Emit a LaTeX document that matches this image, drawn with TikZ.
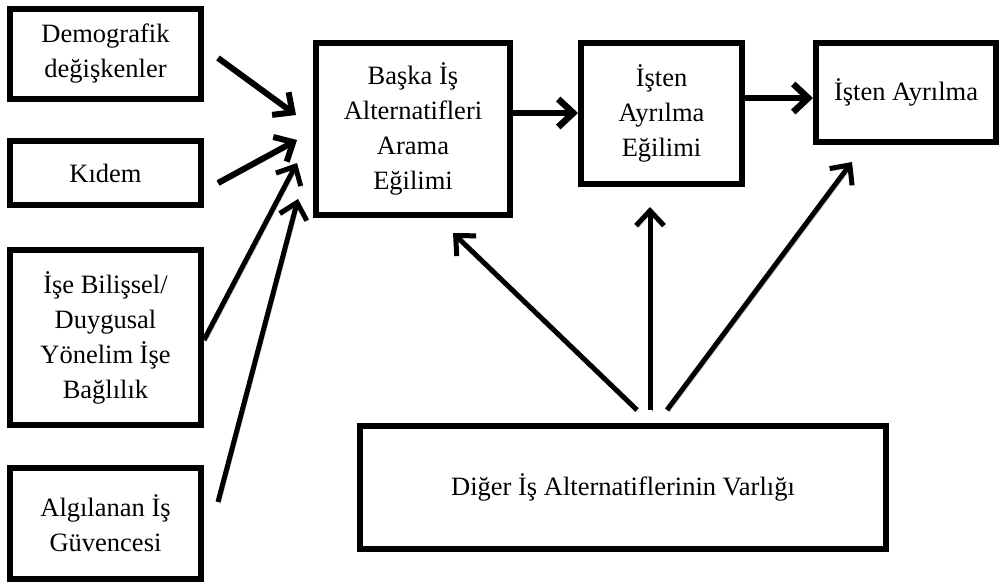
\documentclass[tikz,border=0pt]{standalone}
\usepackage{fontspec}
\setmainfont{Liberation Serif}
\usetikzlibrary{arrows.meta}
\begin{document}
\begin{tikzpicture}[x=1pt,y=-1pt,
  box/.style={draw, line width=6pt, fill=white, inner sep=0pt, align=center,
    font=\fontsize{26.5}{35}\selectfont},
  link/.style={line width=#1, -{Straight Barb[length=15pt,width=28pt]},
    preaction={draw=black!30, transform canvas={shift={(2.2pt,-2.2pt)}}}},
  link/.default=6pt]
\useasboundingbox (0,0) rectangle (1001,585);

% boxes on the left
\node[box, minimum width=191pt, minimum height=90pt]  (demo)  at (105.5,54)    {Demografik\\değişkenler};
\node[box, minimum width=191pt, minimum height=64pt]  (kidem) at (105.5,173)   {Kıdem};
\node[box, minimum width=191pt, minimum height=175pt] (bilis) at (105.5,337.5) {İşe Bilişsel/\\Duygusal\\Yönelim İşe\\Bağlılık};
\node[box, minimum width=191pt, minimum height=111pt] (algi)  at (105.5,523.5) {Algılanan İş\\Güvencesi};

% main chain
\node[box, minimum width=194pt, minimum height=172pt] (baska)  at (413,129)    {Başka İş\\Alternatifleri\\Arama\\Eğilimi};
\node[box, minimum width=161pt, minimum height=141pt] (egilim) at (661.5,113.5) {İşten\\Ayrılma\\Eğilimi};
\node[box, minimum width=180pt, minimum height=99pt]  (ayril)  at (906,92.5)   {İşten Ayrılma};
\node[box, minimum width=526pt, minimum height=123pt] (diger)  at (623,487.5)  {Diğer İş Alternatiflerinin Varlığı};

% connector ends
\coordinate (demo-o)  at (218,58);   \coordinate (demo-i)  at (296,115);
\coordinate (kidem-o) at (218,183);  \coordinate (kidem-i) at (297,140);
\coordinate (bilis-o) at (204,340);  \coordinate (bilis-i) at (297,163);
\coordinate (algi-o)  at (218,502);  \coordinate (algi-i)  at (298,199);
\coordinate (diger-l) at (637,410);  \coordinate (baska-s) at (453,233);
\coordinate (diger-m) at (650,410);  \coordinate (egilim-s) at (650,207);
\coordinate (diger-r) at (667,410);  \coordinate (ayril-s) at (852,162);

\draw[link] (demo-o)  -- (demo-i);
\draw[link] (kidem-o) -- (kidem-i);
\draw[link=5pt] (bilis-o) -- (bilis-i);
\draw[link=5pt] (algi-o)  -- (algi-i);

\draw[link=6.5pt] (baska.east |- 0,113) -- (egilim.west |- 0,113);
\draw[link=6.5pt] (egilim.east |- 0,98) -- (ayril.west |- 0,98);

\draw[link=5pt] (diger-l) -- (baska-s);
\draw[link=5pt] (diger-m) -- (egilim-s);
\draw[link=5pt] (diger-r) -- (ayril-s);
\end{tikzpicture}
\end{document}
